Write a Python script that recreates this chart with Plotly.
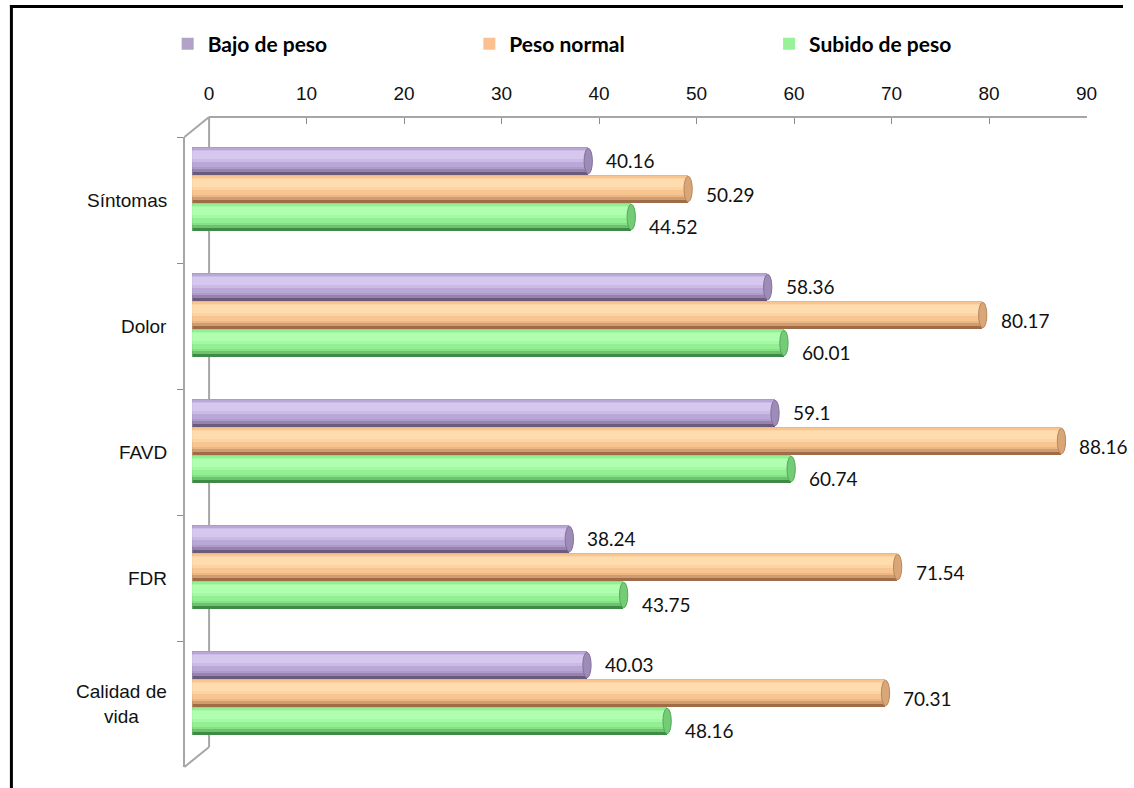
import plotly.graph_objects as go

# ---- data -------------------------------------------------------------
categories = ["Síntomas", "Dolor", "FAVD", "FDR", "Calidad de vida"]
bajo_de_peso = [40.16, 58.36, 59.1, 38.24, 40.03]
peso_normal = [50.29, 80.17, 88.16, 71.54, 70.31]
subido_de_peso = [44.52, 60.01, 60.74, 43.75, 48.16]
x_ticks = [0, 10, 20, 30, 40, 50, 60, 70, 80, 90]
series_names = ["Bajo de peso", "Peso normal", "Subido de peso"]

# ---- page geometry (pixels) -------------------------------------------
W, H = 1134, 788


def px(x):
    return x / W


def py(y):
    return 1 - y / H


# ---- styling per series -----------------------------------------------
styles = {
    "Bajo de peso": dict(light="#d6c7ee", mid="#b9a7d8", dark="#6c5a7c",
                         legend="#b3a2c7", offset=-0.42, yshift=40, legend_x=165),
    "Peso normal": dict(light="#ffdcae", mid="#f8c590", dark="#a06c48",
                        legend="#fac090", offset=-0.198, yshift=6, legend_x=471),
    "Subido de peso": dict(light="#b0ffb0", mid="#92ef92", dark="#3f8a44",
                           legend="#99f299", offset=0.024, yshift=-26, legend_x=775),
}
bar_w = 0.222


def mix(c1, c2, t):
    a = [int(c1[i:i + 2], 16) for i in (1, 3, 5)]
    b = [int(c2[i:i + 2], 16) for i in (1, 3, 5)]
    return "#" + "".join(f"{round(a[k] + (b[k] - a[k]) * t):02x}" for k in range(3))


# nested stripes across the cylinder thickness (0 = top edge, 1 = bottom edge)
def stripes(st):
    return [
        (0.00, 1.00, st["dark"]),
        (0.00, 0.90, mix(st["mid"], st["dark"], 0.45)),
        (0.00, 0.80, mix(st["mid"], st["dark"], 0.15)),
        (0.05, 0.70, st["mid"]),
        (0.10, 0.55, mix(st["light"], st["mid"], 0.4)),
        (0.15, 0.42, st["light"]),
    ]


fig = go.Figure()
shapes = []
annotations = []

values_by_series = {
    "Bajo de peso": bajo_de_peso,
    "Peso normal": peso_normal,
    "Subido de peso": subido_de_peso,
}
legend_ids = {"Bajo de peso": "legend", "Peso normal": "legend2", "Subido de peso": "legend3"}

for name in series_names:
    st = styles[name]
    vals = values_by_series[name]
    for i, (f0, f1, col) in enumerate(stripes(st)):
        fig.add_trace(go.Bar(
            x=vals, y=categories, orientation="h",
            offset=st["offset"] + f0 * bar_w, width=(f1 - f0) * bar_w,
            marker=dict(color=col, line=dict(width=0)),
            name=name, legend=legend_ids[name],
            showlegend=False, hoverinfo="skip" if i else "x+name",
            xaxis="x", yaxis="y",
        ))
    # legend swatch entry
    fig.add_trace(go.Bar(
        x=[None], y=[None], orientation="h", name=name,
        marker=dict(color=st["legend"], line=dict(width=0)),
        legend=legend_ids[name], showlegend=True, xaxis="x", yaxis="y",
    ))
    for ci, v in enumerate(vals):
        y0 = ci + st["offset"]
        y1 = y0 + bar_w
        # rounded left end (behind the bar body)
        shapes.append(dict(type="circle", xref="x", yref="y", layer="below",
                           x0=-0.45, x1=0.45, y0=y0, y1=y1,
                           fillcolor=mix(st["mid"], st["dark"], 0.2), line=dict(width=0)))
        # flat end cap of the cylinder
        shapes.append(dict(type="circle", xref="x", yref="y", layer="above",
                           x0=v - 0.42, x1=v + 0.42, y0=y0 + 0.01, y1=y1 - 0.01,
                           fillcolor=mix(st["mid"], st["dark"], 0.35),
                           line=dict(color=mix(st["mid"], st["dark"], 0.7), width=1)))
        annotations.append(dict(
            x=v, y=categories[ci], xref="x", yref="y", text=str(v),
            xanchor="left", yanchor="middle", xshift=16, yshift=st["yshift"],
            showarrow=False, font=dict(family="Lato", size=19, color="#111111"),
        ))

# category labels
for ci, c in enumerate(categories):
    label = c.replace("Calidad de vida", "Calidad de<br>vida")
    annotations.append(dict(
        x=px(166), y=c, xref="paper", yref="y", text=label, align="center",
        xanchor="right", yanchor="middle", showarrow=False,
        font=dict(family="Liberation Sans, Arial", size=19, color="#111111"),
    ))

# 3-D frame lines: back wall, side wall diagonals
frame_col = "#a6a6a6"
shapes += [
    dict(type="line", xref="paper", yref="paper", x0=px(207), x1=px(207),
         y0=py(117), y1=py(747), line=dict(color=frame_col, width=2), layer="below"),
    dict(type="line", xref="paper", yref="paper", x0=px(182), x1=px(207),
         y0=py(137), y1=py(117), line=dict(color=frame_col, width=2), layer="below"),
    dict(type="line", xref="paper", yref="paper", x0=px(182), x1=px(207),
         y0=py(767), y1=py(747), line=dict(color=frame_col, width=2), layer="below"),
    # outer black border (left and top edges; the rest runs off the page)
    dict(type="line", xref="paper", yref="paper", x0=px(6.5), x1=px(6.5),
         y0=py(5), y1=0, line=dict(color="black", width=3)),
    dict(type="line", xref="paper", yref="paper", x0=px(5), x1=1,
         y0=py(6.5), y1=py(6.5), line=dict(color="black", width=3)),
]

legend_common = dict(
    orientation="h", yanchor="middle", y=py(44), xanchor="left",
    font=dict(family="Lato", size=21, color="black", weight="bold"),
    bgcolor="rgba(0,0,0,0)", itemwidth=30, tracegroupgap=0,
)

fig.update_layout(
    width=W, height=H, autosize=False,
    margin=dict(l=0, r=0, t=0, b=0),
    paper_bgcolor="white", plot_bgcolor="rgba(0,0,0,0)",
    barmode="overlay", bargap=0,
    shapes=shapes, annotations=annotations,
    legend=dict(legend_common, x=px(styles["Bajo de peso"]["legend_x"])),
    legend2=dict(legend_common, x=px(styles["Peso normal"]["legend_x"])),
    legend3=dict(legend_common, x=px(styles["Subido de peso"]["legend_x"])),
    # value axis used by the bars (front plane of the 3-D box)
    xaxis=dict(domain=[px(190), px(1090)], range=[0, 90], visible=False,
               anchor="y", fixedrange=True),
    # visible value scale along the top of the back wall
    xaxis2=dict(domain=[px(207), px(1097)], range=[0, 90], side="top",
                anchor="free", position=py(117), tickvals=x_ticks,
                ticks="inside", ticklen=6, tickcolor="#8c8c8c", tickwidth=1,
                showline=True, linecolor=frame_col, linewidth=2,
                showgrid=False, zeroline=False, ticklabelstandoff=8,
                tickfont=dict(family="Liberation Sans, Arial", size=19, color="#111111")),
    yaxis=dict(domain=[py(767), py(137)], type="category",
               categoryarray=categories, categoryorder="array",
               autorange="reversed", anchor="free", position=px(182),
               showline=True, linecolor=frame_col, linewidth=2,
               ticks="outside", ticklen=6, tickcolor="#8c8c8c", tickson="boundaries",
               showticklabels=False, showgrid=False, zeroline=False),
)

# empty trace so the top scale gets its own subplot
fig.add_trace(go.Scatter(x=[], y=[], xaxis="x2", yaxis="y", showlegend=False,
                         hoverinfo="skip"))

fig.write_html("out.html")
